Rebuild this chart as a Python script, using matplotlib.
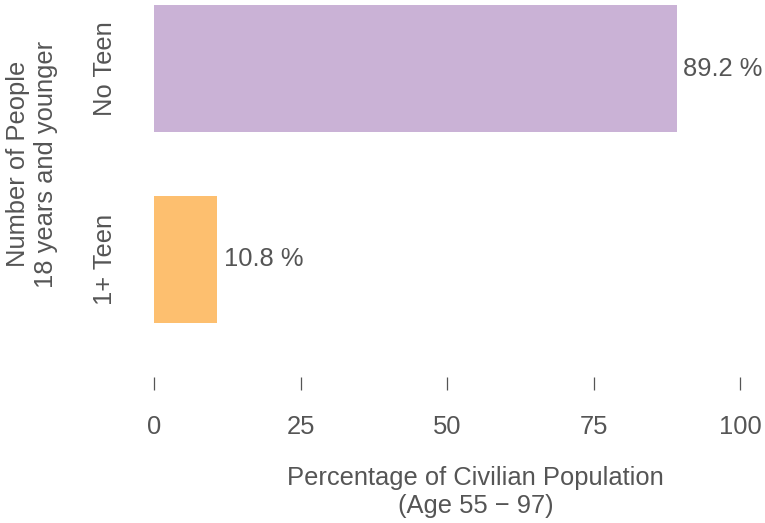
import matplotlib
matplotlib.use("Agg")
import matplotlib.pyplot as plt

plt.rcParams['font.family'] = ['Liberation Sans', 'DejaVu Sans']

TEXT_GRAY = "#555555"
FS = 18.4

# data
categories = ["No Teen", "1+ Teen"]
percentages = [89.2, 10.8]
bar_colors = ["#CAB2D6", "#FDBF6F"]
x_ticks = [0, 25, 50, 75, 100]

fig = plt.figure(figsize=(7.65, 5.23), dpi=100)
ax = fig.add_axes([154 / 765, 1 - 328 / 523, 586 / 765, 328 / 523])

y_pos = list(range(len(categories)))[::-1]
ax.barh(y_pos, percentages, height=0.665, color=bar_colors)

# value labels next to each bar
for y, val in zip(y_pos, percentages):
    ax.annotate(f"{val} %", xy=(val, y), xytext=(4.5, 0), textcoords="offset points",
                ha="left", va="center", fontsize=FS, color=TEXT_GRAY)

ax.set_xlim(0, 100)
ax.set_ylim(-0.36, 1.36)
ax.set_xticks(x_ticks)
ax.set_xticklabels([str(t) for t in x_ticks])
ax.set_yticks(y_pos)
ax.set_yticklabels(categories, rotation=90, va="center")

for side in ["top", "right", "left"]:
    ax.spines[side].set_visible(False)
ax.spines["bottom"].set_position(("outward", 35.5))
ax.spines["bottom"].set_visible(False)

ax.tick_params(axis="x", direction="out", length=9.4, width=0.9, color=TEXT_GRAY,
               pad=18, labelsize=FS, labelcolor=TEXT_GRAY)
ax.tick_params(axis="y", length=0, pad=26.5, labelsize=FS, labelcolor=TEXT_GRAY)

ax.set_xlabel("Percentage of Civilian Population\n(Age 55 \u2212 97)", fontsize=FS,
              color=TEXT_GRAY, linespacing=1.2)
ax.xaxis.set_label_coords(0.549, -0.421)
ax.set_ylabel("Number of People\n18 years and younger", fontsize=FS,
              color=TEXT_GRAY, linespacing=1.2)
ax.yaxis.set_label_coords(-0.164, 0.5)

fig.savefig("out.png", dpi=100)
